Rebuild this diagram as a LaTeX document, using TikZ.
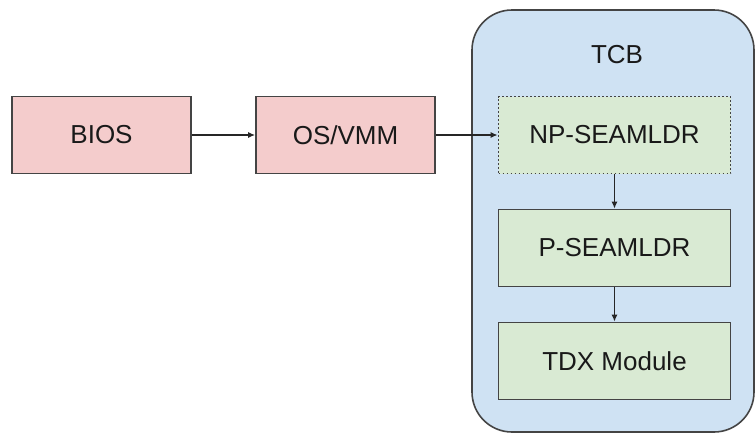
\documentclass[tikz,border=0pt]{standalone}
\usepackage{fontspec}
\setmainfont{Liberation Sans}
\usetikzlibrary{arrows.meta}
\definecolor{biospink}{HTML}{F4CCCC}
\definecolor{tcbblue}{HTML}{CFE2F3}
\definecolor{seamgreen}{HTML}{D9EAD3}
\definecolor{edgegray}{HTML}{444444}
\begin{document}
\begin{tikzpicture}[x=1pt,y=-1pt,
    every node/.style={font=\fontsize{26}{30}\selectfont,text=black!90},
    box/.style={draw=edgegray,line width=1.6pt,minimum height=77pt,inner sep=0pt},
    hostbox/.style={box,fill=biospink,minimum width=179pt},
    seambox/.style={box,fill=seamgreen,minimum width=232pt},
    link/.style={draw=black!85,line width=1.4pt,-{Latex[length=7pt,width=6pt]}}]
    \useasboundingbox (0,0) rectangle (756,434);
    \node[draw=edgegray,line width=1.6pt,fill=tcbblue,rounded corners=40pt,
        minimum width=282pt,minimum height=422pt] (tcb) at (613,221) {};
    \node (tcblabel) at (617,55) {TCB};
    \node[hostbox] (bios) at (101.5,135) {BIOS};
    \node[hostbox] (osvmm) at (345.5,135) {OS/VMM};
    \node[seambox,dash pattern=on 1.6pt off 2.4pt] (npldr) at (614.5,135) {NP-SEAMLDR};
    \node[seambox] (pldr) at (614.5,248) {P-SEAMLDR};
    \node[seambox] (tdx) at (614.5,361) {TDX Module};
    \draw[link] (bios) -- (osvmm);
    \draw[link] (osvmm) -- (npldr);
    \draw[link] (npldr) -- (pldr);
    \draw[link] (pldr) -- (tdx);
\end{tikzpicture}
\end{document}
